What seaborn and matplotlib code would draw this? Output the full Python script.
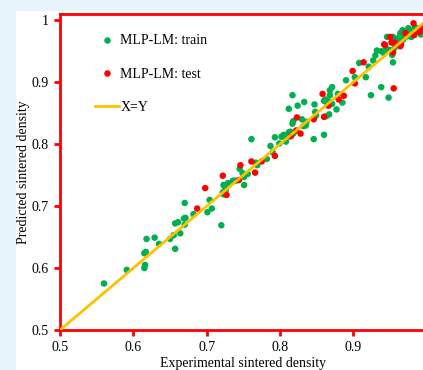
import matplotlib
matplotlib.use('Agg')
import matplotlib.pyplot as plt
import pandas as pd
import seaborn as sns
from matplotlib.patches import Rectangle

train_x = [0.560, 0.591, 0.615, 0.616, 0.615, 0.617, 0.618, 0.629, 0.635, 0.650,
           0.655, 0.657, 0.657, 0.661, 0.664, 0.670, 0.669, 0.671, 0.670, 0.682,
           0.704, 0.701, 0.707, 0.720, 0.722, 0.723, 0.723, 0.725, 0.726, 0.729,
           0.732, 0.736, 0.740, 0.745, 0.751, 0.749, 0.751, 0.756, 0.761, 0.767,
           0.769, 0.782, 0.787, 0.790, 0.793, 0.799, 0.802, 0.805, 0.807, 0.808,
           0.812, 0.814, 0.818, 0.812, 0.812, 0.817, 0.824, 0.833, 0.847, 0.818,
           0.817, 0.830, 0.836, 0.835, 0.832, 0.846, 0.849, 0.848, 0.860, 0.860,
           0.864, 0.863, 0.867, 0.868, 0.871, 0.868, 0.862, 0.866, 0.871, 0.877,
           0.879, 0.885, 0.890, 0.902, 0.908, 0.917, 0.921, 0.927, 0.930, 0.932,
           0.924, 0.938, 0.948, 0.954, 0.938, 0.945, 0.942, 0.946, 0.954, 0.956,
           0.958, 0.949, 0.953, 0.961, 0.964, 0.967, 0.969, 0.972, 0.975, 0.977,
           0.979, 0.982, 0.984, 0.987, 0.990, 0.992, 0.994, 0.968, 0.973, 0.958,
           0.962]
train_y = [0.575, 0.597, 0.600, 0.605, 0.624, 0.626, 0.647, 0.649, 0.639, 0.647,
           0.653, 0.631, 0.672, 0.674, 0.656, 0.705, 0.680, 0.681, 0.670, 0.687,
           0.710, 0.690, 0.696, 0.669, 0.722, 0.719, 0.734, 0.731, 0.726, 0.737,
           0.737, 0.741, 0.741, 0.760, 0.734, 0.753, 0.747, 0.752, 0.808, 0.770,
           0.766, 0.776, 0.797, 0.787, 0.811, 0.801, 0.812, 0.815, 0.812, 0.804,
           0.819, 0.820, 0.817, 0.812, 0.857, 0.879, 0.862, 0.868, 0.864, 0.837,
           0.833, 0.840, 0.836, 0.830, 0.829, 0.808, 0.846, 0.852, 0.815, 0.870,
           0.866, 0.845, 0.848, 0.887, 0.892, 0.879, 0.872, 0.869, 0.865, 0.856,
           0.881, 0.867, 0.903, 0.908, 0.931, 0.908, 0.925, 0.935, 0.943, 0.951,
           0.879, 0.892, 0.875, 0.932, 0.950, 0.954, 0.946, 0.973, 0.973, 0.955,
           0.960, 0.952, 0.944, 0.971, 0.979, 0.984, 0.974, 0.982, 0.987, 0.979,
           0.973, 0.984, 0.989, 0.982, 0.987, 0.977, 0.984, 0.969, 0.974, 0.968,
           0.961]

test_x = [0.687, 0.698, 0.722, 0.727, 0.744, 0.746, 0.761, 0.766, 0.775, 0.793,
          0.815, 0.822, 0.828, 0.823, 0.846, 0.860, 0.858, 0.866, 0.880, 0.887,
          0.899, 0.902, 0.914, 0.955, 0.942, 0.952, 0.956, 0.950, 0.954, 0.965,
          0.971, 0.982, 0.983, 0.990, 0.994, 0.943, 0.964, 0.992]
test_y = [0.696, 0.729, 0.749, 0.718, 0.742, 0.766, 0.772, 0.754, 0.772, 0.781,
          0.813, 0.822, 0.817, 0.843, 0.840, 0.844, 0.881, 0.862, 0.872, 0.878,
          0.918, 0.898, 0.932, 0.890, 0.961, 0.964, 0.964, 0.973, 0.948, 0.961,
          0.979, 0.995, 0.976, 0.981, 0.986, 0.960, 0.958, 0.987]

line_xy = [0.5, 1.0]
ticks = [0.5, 0.6, 0.7, 0.8, 0.9, 1.0]
tick_labels = ['0.5', '0.6', '0.7', '0.8', '0.9', '1']

df = pd.concat([
    pd.DataFrame({'exp': train_x, 'pred': train_y, 'set': 'MLP-LM: train'}),
    pd.DataFrame({'exp': test_x, 'pred': test_y, 'set': 'MLP-LM: test'}),
])

plt.rcParams['font.family'] = ['Liberation Serif', 'DejaVu Serif']

fig = plt.figure(figsize=(4.23, 3.70), dpi=100, facecolor='#e8f4fc')
# white panel behind the plot, light blue strip left and top
fig.patches.append(Rectangle((16 / 423, 0), 1, 1 - 11 / 370, transform=fig.transFigure,
                             facecolor='white', edgecolor='none', zorder=-5))
ax = fig.add_axes([60 / 423, 40 / 370, 366.7 / 423, 316 / 370])
ax.set_facecolor('white')

sns.lineplot(x=line_xy, y=line_xy, ax=ax, color='#ffc000', linewidth=2, label='X=Y', zorder=3)
sns.scatterplot(data=df, x='exp', y='pred', hue='set', ax=ax,
                palette={'MLP-LM: train': '#00b050', 'MLP-LM: test': '#ff0000'},
                s=22, linewidth=0, zorder=2)

ax.set_xlim(0.5, 1.0)
ax.set_ylim(0.5, 1.01)
ax.set_xticks(ticks[:-1])
ax.set_xticklabels(tick_labels[:-1])
ax.set_yticks(ticks)
ax.set_yticklabels(tick_labels)
ax.tick_params(direction='out', length=4, width=2, color='#ff0000', labelsize=10, pad=4)
for s in ax.spines.values():
    s.set_color('#ff0000')
    s.set_linewidth(2)
ax.set_xlabel('Experimental sintered density', fontsize=10, labelpad=2)
ax.set_ylabel('Predicted sintered density', fontsize=10, labelpad=1)

h, l = ax.get_legend_handles_labels()
order = [l.index('MLP-LM: train'), l.index('MLP-LM: test'), l.index('X=Y')]
ax.legend([h[i] for i in order], [l[i] for i in order], loc='upper left',
          bbox_to_anchor=(0.06, 0.975), frameon=False, fontsize=10,
          labelspacing=1.45, handlelength=1.75, handletextpad=0.1)

fig.savefig('out.png', dpi=100, facecolor=fig.get_facecolor())
